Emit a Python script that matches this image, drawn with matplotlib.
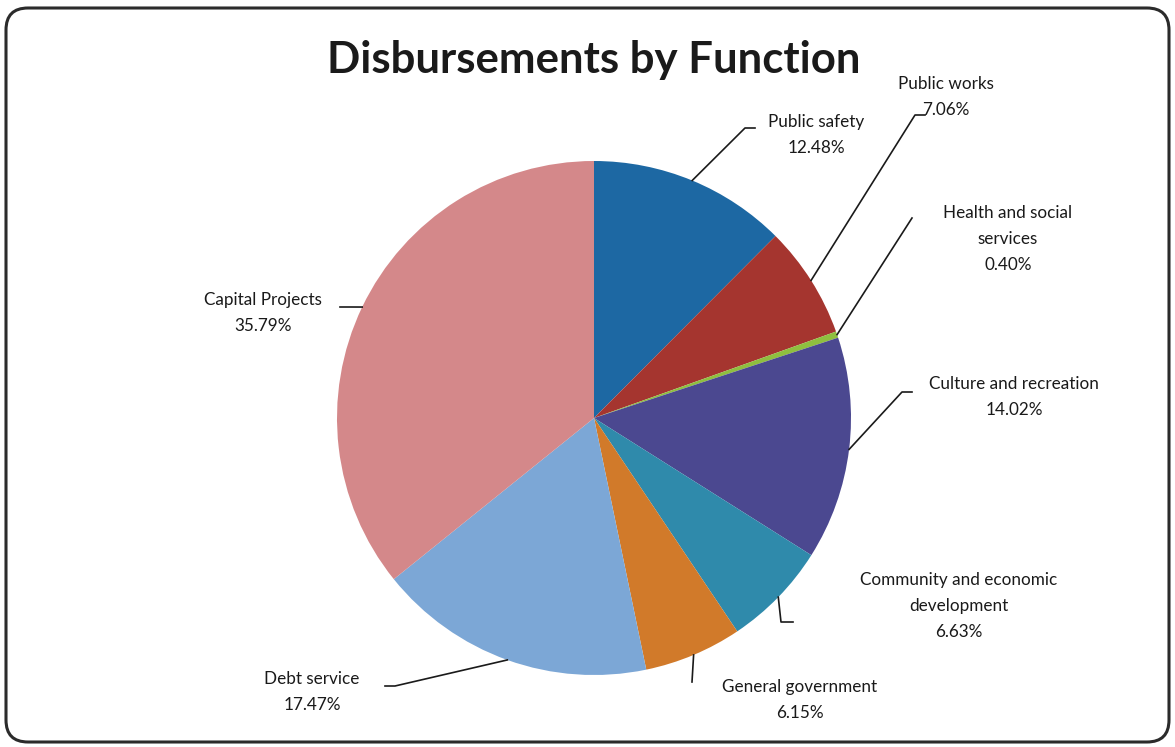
import matplotlib
matplotlib.use("Agg")
import matplotlib.pyplot as plt
from matplotlib.patches import FancyBboxPatch
import numpy as np

categories = ["Public safety", "Public works", "Health and social services",
              "Culture and recreation", "Community and economic development",
              "General government", "Debt service", "Capital Projects"]
values = [12.48, 7.06, 0.40, 14.02, 6.63, 6.15, 17.47, 35.79]
label_texts = ["Public safety\n12.48%", "Public works\n7.06%",
               "Health and social\nservices\n0.40%", "Culture and recreation\n14.02%",
               "Community and economic\ndevelopment\n6.63%", "General government\n6.15%",
               "Debt service\n17.47%", "Capital Projects\n35.79%"]
colors = ["#1d68a3", "#a5352f", "#8fbf3f", "#4b4890", "#2f8aab", "#d17a2a", "#7ca7d6", "#d4888a"]

W, H = 1175, 747
fig = plt.figure(figsize=(W / 100, H / 100), dpi=100)
ax = fig.add_axes([0, 0, 1, 1])
ax.set_xlim(0, W)
ax.set_ylim(0, H)
ax.set_aspect("equal")
ax.axis("off")

def Y(py):
    return H - py

# frame
frame = FancyBboxPatch((6, Y(742)), 1163, 734, boxstyle="round,pad=0,rounding_size=22",
                       fc="white", ec="#2b2b2b", lw=2.2, zorder=0)
ax.add_patch(frame)

cx, cy, r = 594, Y(418), 257
wedges, _ = ax.pie(values, colors=colors, startangle=90, counterclock=False,
                   center=(cx, cy), radius=r, frame=True,
                   wedgeprops=dict(linewidth=0))
ax.set_xlim(0, W)
ax.set_ylim(0, H)
ax.axis("off")

fam = ["Lato", "DejaVu Sans"]
ax.text(594, Y(60), "Disbursements by Function", ha="center", va="center",
        fontsize=31.5, fontweight="bold", family=fam, color="#1a1a1a")

# label layout (pixel positions) and leader-line bend points
label_pos = [(816, 135), (946, 97), (1008, 239), (1014, 397), (959, 606),
             (800, 700), (312, 692), (263, 313)]
leaders = [
    [(755, 128), (745, 128)],
    [(925, 115), (915, 115)],
    [(912, 218)],
    [(912, 392), (902, 392)],
    [(793, 622), (781, 622)],
    [(692, 682)],
    [(385, 686), (395, 686)],
    [(340, 307), (350, 307)],
]

for i, (w, txt) in enumerate(zip(wedges, label_texts)):
    lx, ly = label_pos[i]
    ax.text(lx, Y(ly), txt, ha="center", va="center", fontsize=12.3,
            family=fam, color="#1a1a1a", linespacing=1.75)
    pts = leaders[i]
    mid = np.deg2rad((w.theta1 + w.theta2) / 2)
    ex, ey = cx + r * np.cos(mid), cy + r * np.sin(mid)
    xs = [p[0] for p in pts] + [ex]
    ys = [Y(p[1]) for p in pts] + [ey]
    ax.plot(xs, ys, color="#1a1a1a", lw=1.2, zorder=5)

fig.savefig("out.png", dpi=100, facecolor="white")
